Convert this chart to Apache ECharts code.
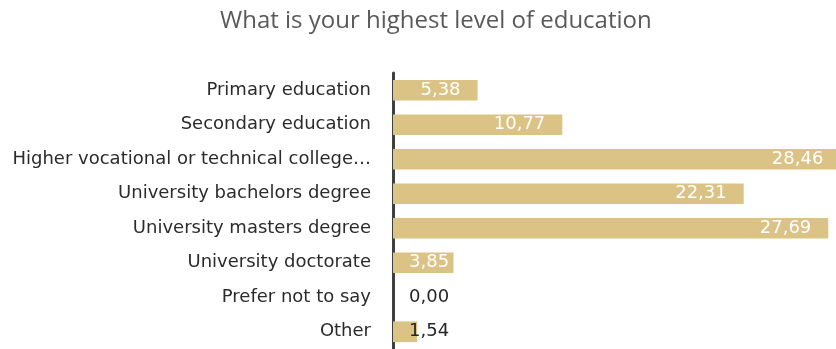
<!DOCTYPE html>
<html>
<head>
<meta charset="utf-8">
<script src="https://cdn.jsdelivr.net/npm/echarts@6/dist/echarts.min.js"></script>
<style>
  html, body { margin: 0; padding: 0; background: #fff; }
  #chart { width: 836px; height: 349px; }
</style>
</head>
<body>
<div id="chart"></div>
<script>
// Survey answers, top to bottom
const categories = [
  'Primary education',
  'Secondary education',
  'Higher vocational or technical college…',
  'University bachelors degree',
  'University masters degree',
  'University doctorate',
  'Prefer not to say',
  'Other'
];
// Share of respondents (%)
const shares = [5.38, 10.77, 28.46, 22.31, 27.69, 3.85, 0.00, 1.54];

const TITLE_FONT = '"Open Sans", Lato, sans-serif';
const FONT = '"DejaVu Sans", "Open Sans", sans-serif';
const BAR = '#DBC386';

// Short bars get their value pinned just right of the axis
const seriesData = shares.map(v => {
  if (v >= 5) return { value: v };
  return {
    value: v,
    label: {
      position: [16, '50%'],
      align: 'left',
      verticalAlign: 'middle',
      color: v >= 3 ? '#ffffff' : '#262626'
    }
  };
});

const chart = echarts.init(document.getElementById('chart'), null, { renderer: 'canvas' });
chart.setOption({
  animation: false,
  title: {
    text: 'What is your highest level of education',
    left: 215,
    top: 4,
    textStyle: { fontFamily: TITLE_FONT, fontSize: 24, fontWeight: 'normal', color: '#595959' }
  },
  grid: { left: 393, right: 0, top: 73, bottom: -1, containLabel: false },
  xAxis: {
    type: 'value',
    min: 0,
    max: 28.18,   // longest bar runs slightly past the right edge
    show: false
  },
  yAxis: {
    type: 'category',
    inverse: true,
    data: categories,
    axisLine: { show: true, lineStyle: { color: '#404040', width: 3 } },
    axisTick: { show: false },
    axisLabel: { margin: 22, fontFamily: FONT, fontSize: 18, color: '#2b2b2b' }
  },
  series: [{
    type: 'bar',
    data: seriesData,
    clip: false,
    barCategoryGap: '40%',
    itemStyle: { color: BAR },
    label: {
      show: true,
      position: 'insideRight',
      distance: 17,
      fontFamily: FONT,
      fontSize: 18,
      color: '#ffffff',
      formatter: p => p.value.toFixed(2).replace('.', ',')
    }
  }]
});
</script>
</body>
</html>
